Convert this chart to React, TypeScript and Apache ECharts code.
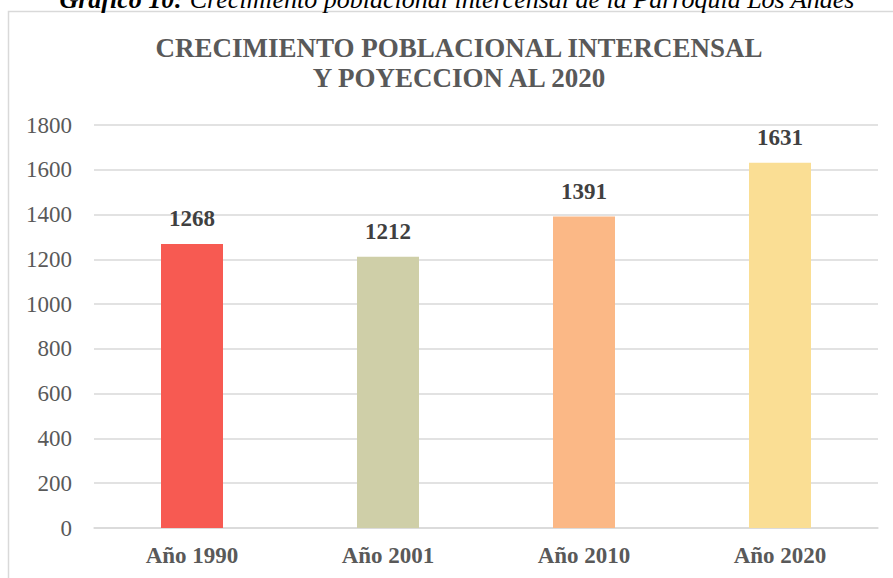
import React, { useEffect, useRef } from "react";
import * as echarts from "echarts";

const categories = ["Año 1990", "Año 2001", "Año 2010", "Año 2020"];
const population = [1268, 1212, 1391, 1631];
const barColors = ["#F75A52", "#CFCFA8", "#FBB886", "#FADE94"];
const chartTitle = "CRECIMIENTO POBLACIONAL INTERCENSAL\nY POYECCION AL 2020";
const captionBold = "Gráfico 10:";
const captionText = " Crecimiento poblacional intercensal de la Parroquia Los Andes";

const FONT = "'Liberation Serif', 'Times New Roman', serif";

export default function App() {
  const ref = useRef<HTMLDivElement>(null);
  useEffect(() => {
    document.body.style.margin = "0";
    const chart = echarts.init(ref.current!, null, { renderer: "svg" });
    chart.setOption({
      animation: false,
      backgroundColor: "#ffffff",
      title: {
        text: chartTitle,
        left: 454,
        top: 28,
        textAlign: "center",
        textStyle: {
          fontFamily: FONT,
          fontWeight: "bold",
          fontSize: 27,
          lineHeight: 30,
          color: "#595959",
        },
      },
      graphic: [
        {
          type: "rect",
          shape: { x: 8.5, y: 11.5, width: 900, height: 600 },
          style: { fill: "none", stroke: "#d9d9d9", lineWidth: 1.5 },
          z: 0,
        },
        {
          type: "text",
          x: 457,
          y: -1,
          style: {
            text: "{b|" + captionBold + "}{n|" + captionText + "}",
            align: "center",
            verticalAlign: "middle",
            rich: {
              b: { fontFamily: FONT, fontStyle: "italic", fontWeight: "bold", fontSize: 26, fill: "#000" },
              n: { fontFamily: FONT, fontStyle: "italic", fontSize: 26, fill: "#000" },
            },
          },
        },
      ],
      grid: { left: 94, right: 15, top: 125, bottom: 50, containLabel: false },
      xAxis: {
        type: "category",
        data: categories,
        axisTick: { show: false },
        axisLine: { lineStyle: { color: "#d9d9d9", width: 1.5 } },
        axisLabel: {
          margin: 16,
          fontFamily: FONT,
          fontWeight: "bold",
          fontSize: 23,
          color: "#595959",
        },
      },
      yAxis: {
        type: "value",
        min: 0,
        max: 1800,
        interval: 200,
        axisLine: { show: false },
        axisTick: { show: false },
        splitLine: { lineStyle: { color: "#d9d9d9", width: 1.5 } },
        axisLabel: {
          margin: 22,
          formatter: (v: number) => String(v),
          fontFamily: FONT,
          fontSize: 23,
          color: "#595959",
        },
      },
      series: [
        {
          type: "bar",
          barWidth: 62,
          data: population.map((v, i) => ({ value: v, itemStyle: { color: barColors[i] } })),
          label: {
            show: true,
            position: "top",
            distance: 14,
            fontFamily: FONT,
            fontWeight: "bold",
            fontSize: 23,
            color: "#404040",
          },
        },
      ],
    });
    return () => chart.dispose();
  }, []);
  return <div ref={ref} style={{ width: 893, height: 578, position: "absolute", left: 0, top: 0 }} />;
}
